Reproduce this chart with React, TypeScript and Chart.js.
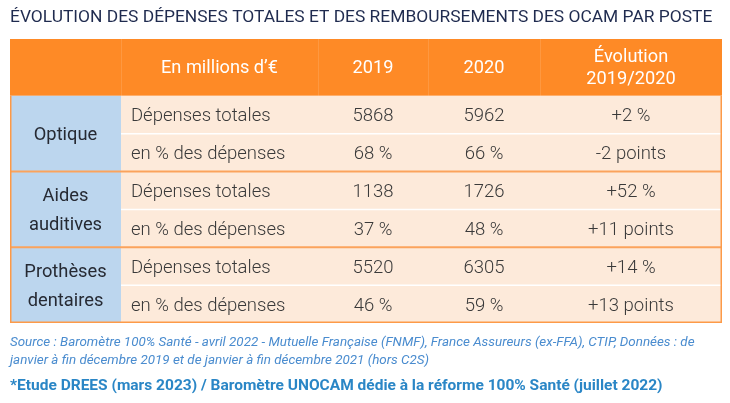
import React, { useEffect, useRef } from "react";
import { Chart, registerables } from "chart.js";

Chart.register(...registerables);

const titleText = "ÉVOLUTION DES DÉPENSES TOTALES ET DES REMBOURSEMENTS DES OCAM PAR POSTE";
const columnHeaders = ["", "En millions d’€", "2019", "2020", "Évolution\n2019/2020"];
const groups = ["Optique", "Aides\nauditives", "Prothèses\ndentaires"];
const measures = ["Dépenses totales", "en % des dépenses"];
const depenses2019 = [5868, 1138, 5520];
const depenses2020 = [5962, 1726, 6305];
const part2019 = [68, 37, 46];
const part2020 = [66, 48, 59];
const evolDepensesPct = [2, 52, 14];
const evolPartPoints = [-2, 11, 13];
const sourceLines = [
  "Source : Baromètre 100% Santé - avril 2022 - Mutuelle Française (FNMF), France Assureurs (ex-FFA), CTIP, Données : de",
  "janvier à fin décembre 2019 et de janvier à fin décembre 2021 (hors C2S)",
];
const noteText = "*Etude DREES (mars 2023) / Baromètre UNOCAM dédie à la réforme 100% Santé (juillet 2022)";

// layout (column edges in x-scale units, row heights in y-scale units)
const COL_EDGES = [0, 111, 308, 418, 530, 712];
const HEADER_H = 1.5;

const sign = (v: number) => (v > 0 ? "+" + v : String(v));

function buildRows() {
  const rows: string[][] = [];
  groups.forEach((_, g) => {
    rows.push([measures[0], String(depenses2019[g]), String(depenses2020[g]), sign(evolDepensesPct[g]) + " %"]);
    rows.push([measures[1], part2019[g] + " %", part2020[g] + " %", sign(evolPartPoints[g]) + " points"]);
  });
  return rows;
}

const FONT = "Roboto, 'Noto Sans', sans-serif";

const tablePlugin = {
  id: "tablePlugin",
  afterDraw(chart: any) {
    const ctx: CanvasRenderingContext2D = chart.ctx;
    const xs = chart.scales.x;
    const ys = chart.scales.y;
    const X = (v: number) => xs.getPixelForValue(v);
    const Y = (v: number) => ys.getPixelForValue(v);
    const rows = buildRows();
    const nRows = rows.length;
    const yEnd = HEADER_H + nRows;
    ctx.save();

    // title
    ctx.fillStyle = "#1f2b4f";
    ctx.font = `17.4px ${FONT}`;
    ctx.textAlign = "left";
    ctx.textBaseline = "middle";
    ctx.fillText(titleText, X(0), 18);

    // header
    ctx.fillStyle = "#fe8a26";
    ctx.fillRect(X(0), Y(0), X(712) - X(0), Y(HEADER_H) - Y(0));
    ctx.strokeStyle = "rgba(255,255,255,0.12)";
    ctx.lineWidth = 1;
    for (let c = 1; c < COL_EDGES.length - 1; c++) {
      ctx.beginPath();
      ctx.moveTo(Math.round(X(COL_EDGES[c])) + 0.5, Y(0));
      ctx.lineTo(Math.round(X(COL_EDGES[c])) + 0.5, Y(HEADER_H));
      ctx.stroke();
    }
    ctx.fillStyle = "#ffffff";
    ctx.font = `18.2px ${FONT}`;
    ctx.textAlign = "center";
    columnHeaders.forEach((h, c) => {
      if (!h) return;
      const cx = (X(COL_EDGES[c]) + X(COL_EDGES[c + 1])) / 2;
      const lines = h.split("\n");
      const cy = (Y(0) + Y(HEADER_H)) / 2 + 1.5;
      const lh = 22;
      lines.forEach((ln, i) => {
        ctx.fillText(ln, cx, cy + (i - (lines.length - 1) / 2) * lh);
      });
    });

    // body cells
    ctx.fillStyle = "#fdeada";
    ctx.fillRect(X(COL_EDGES[1]), Y(HEADER_H), X(712) - X(COL_EDGES[1]), Y(yEnd) - Y(HEADER_H));
    ctx.fillStyle = "#bcd6ee";
    ctx.fillRect(X(0), Y(HEADER_H), X(COL_EDGES[1]) - X(0), Y(yEnd) - Y(HEADER_H));

    // white separators between sub rows
    ctx.strokeStyle = "#ffffff";
    ctx.lineWidth = 1.5;
    groups.forEach((_, g) => {
      const yy = Y(HEADER_H + 2 * g + 1);
      ctx.beginPath();
      ctx.moveTo(X(COL_EDGES[1]), yy);
      ctx.lineTo(X(712), yy);
      ctx.stroke();
    });
    // orange separators between groups
    ctx.strokeStyle = "#fba35c";
    ctx.lineWidth = 2;
    for (let g = 1; g < groups.length; g++) {
      const yy = Y(HEADER_H + 2 * g);
      ctx.beginPath();
      ctx.moveTo(X(0), yy);
      ctx.lineTo(X(712), yy);
      ctx.stroke();
    }
    // outer border
    ctx.strokeStyle = "#fd9a48";
    ctx.lineWidth = 1.5;
    ctx.beginPath();
    ctx.moveTo(X(0) + 0.75, Y(HEADER_H));
    ctx.lineTo(X(0) + 0.75, Y(yEnd) - 0.75);
    ctx.lineTo(X(712) - 0.75, Y(yEnd) - 0.75);
    ctx.lineTo(X(712) - 0.75, Y(HEADER_H));
    ctx.stroke();

    // group labels
    ctx.fillStyle = "#262a33";
    ctx.font = `18.3px ${FONT}`;
    ctx.textAlign = "center";
    groups.forEach((gname, g) => {
      const lines = gname.split("\n");
      const cx = (X(0) + X(COL_EDGES[1])) / 2;
      const cy = (Y(HEADER_H + 2 * g) + Y(HEADER_H + 2 * g + 2)) / 2 + 2;
      const lh = 29;
      lines.forEach((ln, i) => {
        ctx.fillText(ln, cx, cy + (i - (lines.length - 1) / 2) * lh);
      });
    });

    // body text
    ctx.fillStyle = "#3a3a3a";
    ctx.font = `300 18.5px ${FONT}`;
    rows.forEach((r, ri) => {
      const cy = (Y(HEADER_H + ri) + Y(HEADER_H + ri + 1)) / 2 + 2;
      r.forEach((txt, ci) => {
        const c = ci + 1;
        if (c === 1) {
          ctx.textAlign = "left";
          ctx.fillText(txt, X(COL_EDGES[1]) + 10, cy);
        } else {
          ctx.textAlign = "center";
          ctx.fillText(txt, (X(COL_EDGES[c]) + X(COL_EDGES[c + 1])) / 2, cy);
        }
      });
    });

    // footer
    ctx.textAlign = "left";
    ctx.fillStyle = "#4a8ccf";
    ctx.font = `italic 13.4px ${FONT}`;
    sourceLines.forEach((ln, i) => ctx.fillText(ln, X(0), 343 + i * 17.5));
    ctx.fillStyle = "#2a86c6";
    ctx.font = `bold 15.5px ${FONT}`;
    ctx.fillText(noteText, X(0), 386);

    ctx.restore();
  },
};

export default function App() {
  const ref = useRef<HTMLCanvasElement>(null);
  useEffect(() => {
    if (!ref.current) return;
    const chart = new Chart(ref.current, {
      type: "scatter",
      data: { datasets: [{ data: [] }] },
      options: {
        animation: false,
        responsive: false,
        events: [],
        layout: { padding: { left: 10, right: 8, top: 39, bottom: 80 } },
        plugins: { legend: { display: false }, tooltip: { enabled: false } },
        scales: {
          x: { type: "linear", min: 0, max: 712, display: false },
          y: { type: "linear", min: 0, max: HEADER_H + groups.length * 2, reverse: true, display: false },
        },
      },
      plugins: [tablePlugin],
    });
    return () => chart.destroy();
  }, []);
  return (
    <div style={{ position: "fixed", left: 0, top: 0, width: 730, height: 403, background: "#fff" }}>
      <canvas ref={ref} width={730} height={403} style={{ width: 730, height: 403 }} />
    </div>
  );
}
